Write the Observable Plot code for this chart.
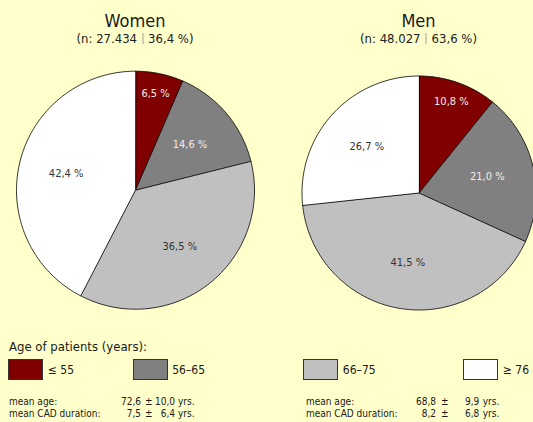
<!DOCTYPE html>
<html>
<head>
<meta charset="utf-8">
<script src="https://cdn.jsdelivr.net/npm/d3@7"></script>
<script src="https://cdn.jsdelivr.net/npm/@observablehq/plot@0.6"></script>
<style>
  html, body { margin: 0; padding: 0; background: #ffffcc; overflow: hidden; }
  #chart {
    position: relative; width: 533px; height: 422px;
    font-family: "DejaVu Sans Condensed", "DejaVu Sans", sans-serif; color: #1a1a1a;
  }
  #head { position: relative; height: 60px; }
  #legend { position: relative; height: 92px; }
  #pies svg { display: block; }
  .abs { position: absolute; line-height: 1; white-space: nowrap; }
  .center { transform: translateX(-50%); }
  .sep { display: inline-block; width: 0; height: 11px; border-left: 1px solid #a0a0a0; margin: 0 5px; vertical-align: -1px; }
  .swatch { position: absolute; box-sizing: border-box; border: 1px solid #333; }
</style>
</head>
<body>
<div id="chart">
  <div id="head"></div>
  <div id="pies"></div>
  <div id="legend"></div>
</div>
<script>
// Age distribution of patients by sex
const sexes = ["Women", "Men"];
const patientCounts = [27434, 48027];
const sexShares = [36.4, 63.6];

const ageGroups = ["≤ 55", "56–65", "66–75", "≥ 76"];
const groupColors = ["#800000", "#808080", "#c0c0c0", "#ffffff"];

const womenShares = [6.5, 14.6, 36.5, 42.4];
const menShares = [10.8, 21.0, 41.5, 26.7];

const meanAge = [72.6, 68.8];
const sdAge = [10.0, 9.9];
const meanCadDuration = [7.5, 8.2];
const sdCadDuration = [6.4, 6.8];

const legendTitle = "Age of patients (years):";
const statLabels = ["mean age:", "mean CAD duration:"];
const unit = "yrs.";

// number formatting with decimal comma and dot thousands separator
const dec = v => v.toFixed(1).replace(".", ",");
const thousands = n => String(n).replace(/\B(?=(\d{3})+(?!\d))/g, ".");

const font = '"DejaVu Sans Condensed", "DejaVu Sans", sans-serif';

function el(parent, cls, text, style) {
  const d = document.createElement("div");
  d.className = cls;
  if (text != null) d.textContent = text;
  Object.assign(d.style, style);
  parent.appendChild(d);
  return d;
}

// pie geometry (pixels inside the svg)
const W = 533, H = 270;
const pies = [
  {cx: 135, cy: 129.7, r: 119},
  {cx: 418.5, cy: 132.5, r: 117}
];
const titleX = [135, 418.5];

// headings
const head = document.getElementById("head");
sexes.forEach((sex, i) => {
  el(head, "abs center", sex, {left: titleX[i] + "px", top: "12px", fontSize: "18px"});
  const sub = el(head, "abs center", null, {left: titleX[i] + "px", top: "31.5px", fontSize: "13px", color: "#222"});
  sub.append(`(n: ${thousands(patientCounts[i])}`);
  const s = document.createElement("span"); s.className = "sep"; sub.appendChild(s);
  sub.append(`${dec(sexShares[i])} %)`);
});

// wedges and labels
const shares = [womenShares, menShares];
const wedges = [], labelsDark = [], labelsLight = [];
sexes.forEach((sex, i) => {
  const {cx, cy, r} = pies[i];
  let acc = 0;
  shares[i].forEach((v, j) => {
    const a0 = acc / 100 * 2 * Math.PI;
    const a1 = (acc + v) / 100 * 2 * Math.PI;
    acc += v;
    const key = sex + "-" + j, group = ageGroups[j];
    wedges.push({key, group, x: cx, y: cy});
    const n = Math.max(2, Math.ceil((a1 - a0) / (Math.PI / 180)));
    for (let k = 0; k <= n; k++) {
      const a = a0 + (a1 - a0) * k / n;
      wedges.push({key, group, x: cx + r * Math.sin(a), y: cy - r * Math.cos(a)});
    }
    const am = (a0 + a1) / 2;
    const lr = r * (v < 12 ? 0.83 : 0.6);
    const lab = {x: cx + lr * Math.sin(am), y: cy - lr * Math.cos(am), text: dec(v) + " %"};
    (j < 2 ? labelsLight : labelsDark).push(lab);
  });
});

const plot = Plot.plot({
  width: W,
  height: H,
  margin: 0,
  x: {domain: [0, W], range: [0, W], axis: null},
  y: {domain: [0, H], range: [0, H], axis: null},
  color: {domain: ageGroups, range: groupColors},
  style: {background: "none", fontFamily: font, overflow: "hidden"},
  marks: [
    Plot.line(wedges, {x: "x", y: "y", z: "key", fill: "group", stroke: "#000", strokeWidth: 0.8, curve: "linear-closed", strokeLinejoin: "round"}),
    Plot.text(labelsLight, {x: "x", y: "y", text: "text", fill: "#f4ecec", fontSize: 11}),
    Plot.text(labelsDark, {x: "x", y: "y", text: "text", fill: "#333", fontSize: 11})
  ]
});
document.getElementById("pies").appendChild(plot);

// legend
const legend = document.getElementById("legend");
el(legend, "abs", legendTitle, {left: "9px", top: "9.7px", fontSize: "13px"});
const swatchX = [8.3, 132.7, 303.3, 463.3];
ageGroups.forEach((g, j) => {
  el(legend, "swatch", null, {left: swatchX[j] + "px", top: "29.3px", width: "35px", height: "21px", background: groupColors[j]});
  el(legend, "abs", g, {left: (swatchX[j] + 39.5) + "px", top: "34px", fontSize: "12px"});
});

// summary statistics
const statCols = [
  {label: 9, n1: 141, pm: 145, n2: 175, unit: 178},
  {label: 306, n1: 436, pm: 441, n2: 479.3, unit: 482.7}
];
const rowTop = [67.2, 78.5];
sexes.forEach((sex, i) => {
  const c = statCols[i];
  const rows = [[meanAge[i], sdAge[i]], [meanCadDuration[i], sdCadDuration[i]]];
  rows.forEach(([m, s], k) => {
    const st = {top: rowTop[k] + "px", fontSize: "10px"};
    el(legend, "abs", statLabels[k], {...st, left: c.label + "px"});
    el(legend, "abs", dec(m), {...st, left: (c.n1 - 60) + "px", width: "60px", textAlign: "right"});
    el(legend, "abs", "±", {...st, left: c.pm + "px"});
    el(legend, "abs", dec(s), {...st, left: (c.n2 - 60) + "px", width: "60px", textAlign: "right"});
    el(legend, "abs", unit, {...st, left: c.unit + "px"});
  });
});
</script>
</body>
</html>
